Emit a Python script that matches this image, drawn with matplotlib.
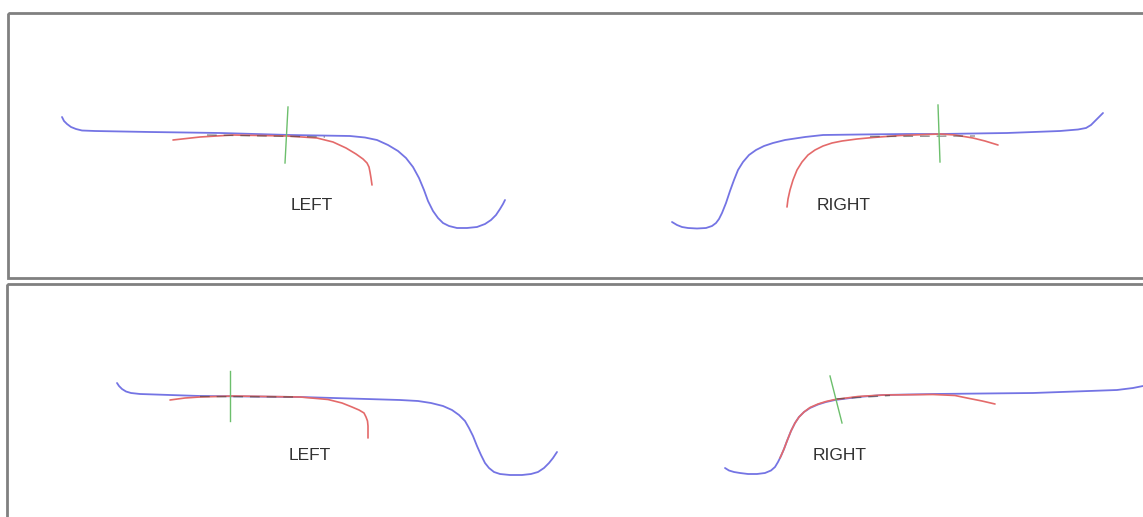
import matplotlib
matplotlib.use("Agg")
import matplotlib.pyplot as plt
from matplotlib.patches import Rectangle

W, H = 1143, 517

# ---- top panel, left profile ----
top_left_blue_x = [62, 64, 67, 71, 76, 82, 95, 150, 220, 290, 350, 365, 377, 388, 398, 406, 413, 419,
                   424, 428, 433, 438, 443, 449, 457, 467, 477, 485, 491, 496, 500, 503, 505]
top_left_blue_y = [117, 121, 124, 127, 129, 130.5, 131, 132, 133, 135, 136, 137.5, 140, 145, 151, 158,
                   167, 178, 190, 201, 211, 218, 223, 226, 228, 228, 227, 224, 220, 215, 209, 204, 200]
top_left_red_x = [173, 200, 233, 287, 317, 333, 346, 356, 363, 367, 369, 370, 371, 372]
top_left_red_y = [140, 137, 135, 136, 138, 142, 148, 154, 159, 163, 167, 172, 178, 185]
top_left_dash_x = [207, 325]
top_left_dash_y = [135, 137]
top_left_green_x = [288, 285]
top_left_green_y = [107, 163]

# ---- top panel, right profile ----
top_right_blue_x = [672, 677, 682, 688, 697, 706, 712, 716, 719, 722, 726, 730, 734, 738, 743, 749,
                    756, 764, 773, 785, 805, 823, 860, 907, 940, 1007, 1060, 1078, 1086, 1091, 1096,
                    1100, 1103]
top_right_blue_y = [222, 225, 227, 228, 228.5, 228, 226, 223, 219, 213, 203, 191, 180, 170, 162, 155,
                    150, 146, 143, 140, 137, 135, 134.5, 134, 134, 133, 131, 129.5, 128, 125, 120,
                    116, 113]
top_right_red_x = [787, 788, 790, 793, 797, 802, 808, 815, 823, 832, 842, 857, 873, 900, 940, 955,
                   973, 985, 998]
top_right_red_y = [207, 199, 190, 180, 170, 162, 155, 150, 146, 143, 141, 139, 137.5, 135.5, 134, 135,
                   138, 141, 145]
top_right_dash_x = [870, 975]
top_right_dash_y = [136.5, 136]
top_right_green_x = [938, 940]
top_right_green_y = [105, 162]

# ---- bottom panel, left profile ----
bot_left_blue_x = [117, 119, 122, 126, 131, 140, 200, 300, 400, 418, 431, 443, 452, 459, 465, 469,
                   473, 477, 481, 485, 489, 494, 500, 510, 522, 531, 538, 544, 549, 553, 557]
bot_left_blue_y = [383, 386, 389, 391.5, 393, 394, 396, 397, 400, 401, 403, 406, 410, 415, 421, 428,
                   436, 446, 455, 463, 468, 472, 474, 475, 475, 474, 472, 468, 463, 458, 452]
bot_left_red_x = [170, 185, 200, 233, 300, 328, 342, 352, 359, 364, 366, 367.5, 368, 368, 368]
bot_left_red_y = [400, 398, 397, 396, 397, 399.5, 403, 407, 410, 413, 417, 421, 426, 432, 438]
bot_left_dash_x = [200, 295]
bot_left_dash_y = [396.5, 397]
bot_left_green_x = [230, 230]
bot_left_green_y = [371, 421]

# ---- bottom panel, right profile ----
bot_right_blue_x = [725, 729, 734, 740, 748, 757, 765, 771, 775, 778, 781, 784, 787, 791, 795, 799,
                    804, 810, 818, 826, 835, 858, 883, 933, 1033, 1117, 1133, 1143]
bot_right_blue_y = [468, 470.5, 472, 473, 474, 474, 473, 470.5, 467, 462, 456, 449, 441, 431, 423, 417,
                    412, 408, 404.5, 402, 400, 397, 395, 394, 393, 390, 388, 386]
bot_right_red_x = [780, 784, 787, 791, 795, 799, 804, 810, 818, 826, 835, 858, 883, 933, 955, 967,
                   982, 995]
bot_right_red_y = [458, 449, 441, 431, 423, 417, 412, 407.5, 404, 401.5, 399.5, 396.5, 395, 394.5, 395.5,
                   398, 401, 404]
bot_right_dash_x = [835, 890]
bot_right_dash_y = [399, 395.5]
bot_right_green_x = [830, 842]
bot_right_green_y = [376, 423]

# ---- labels ----
label_text = ["LEFT", "RIGHT", "LEFT", "RIGHT"]
label_x = [312, 844, 310, 840]
label_y = [205, 205, 455, 455]

BLUE = "#7474e4"
RED = "#e46a6a"
GREEN = "#6cbf6c"
DARK = "#3a3a3a"
FRAME = "#808080"

fig = plt.figure(figsize=(W / 100, H / 100), dpi=100)
ax = fig.add_axes([0, 0, 1, 1])
ax.set_xlim(0, W)
ax.set_ylim(H, 0)
ax.axis("off")

# panel frames
ax.add_patch(Rectangle((8, 12.5), 1160, 265.5, fill=False, edgecolor=FRAME, linewidth=2.0))
ax.add_patch(Rectangle((6.5, 284), 1160, 260, fill=False, edgecolor=FRAME, linewidth=2.0))

profiles = [
    (top_left_blue_x, top_left_blue_y, top_left_red_x, top_left_red_y,
     top_left_dash_x, top_left_dash_y, top_left_green_x, top_left_green_y),
    (top_right_blue_x, top_right_blue_y, top_right_red_x, top_right_red_y,
     top_right_dash_x, top_right_dash_y, top_right_green_x, top_right_green_y),
    (bot_left_blue_x, bot_left_blue_y, bot_left_red_x, bot_left_red_y,
     bot_left_dash_x, bot_left_dash_y, bot_left_green_x, bot_left_green_y),
    (bot_right_blue_x, bot_right_blue_y, bot_right_red_x, bot_right_red_y,
     bot_right_dash_x, bot_right_dash_y, bot_right_green_x, bot_right_green_y),
]

for bx, by, rx, ry, dx, dy, gx, gy in profiles:
    ax.plot(bx, by, color=BLUE, lw=1.3, solid_capstyle="round", solid_joinstyle="round")
    ax.plot(rx, ry, color=RED, lw=1.2, solid_capstyle="round", solid_joinstyle="round")
    ax.plot(dx, dy, color=DARK, lw=1.0, alpha=0.55, dashes=(7, 5))
    ax.plot(gx, gy, color=GREEN, lw=1.0)

for t, x, y in zip(label_text, label_x, label_y):
    ax.text(x, y, t, ha="center", va="center", fontsize=12.5,
            family="Liberation Sans", color="#303030")

fig.savefig("out.png", dpi=100)
